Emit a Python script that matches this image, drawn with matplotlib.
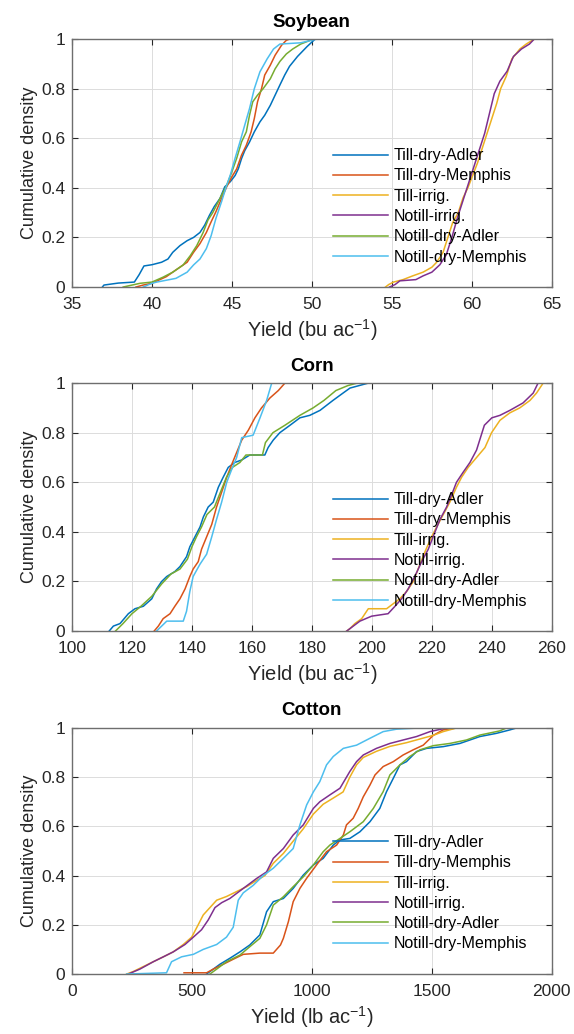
import matplotlib
matplotlib.use("Agg")
import matplotlib.pyplot as plt

plt.rcParams['font.family'] = ['Liberation Sans', 'DejaVu Sans']
plt.rcParams['mathtext.default'] = 'regular'

labels = ['Till-dry-Adler', 'Till-dry-Memphis', 'Till-irrig.', 'Notill-irrig.',
          'Notill-dry-Adler', 'Notill-dry-Memphis']
colors = ['#0072BD', '#D95319', '#EDB120', '#7E2F8E', '#77AC30', '#4DBEEE']

# ---- Soybean (bu/ac) : yield values and cumulative density
soy_till_adler_x = [36.9, 37.0, 37.9, 38.9, 39.2, 39.5, 40.0, 40.6, 41.0, 41.3, 41.75, 42.2, 42.6, 43.0,
                    43.3, 43.6, 43.9, 44.25, 44.55, 44.9, 45.2, 45.4, 45.6, 45.8, 46.1, 46.4, 46.75,
                    47.05, 47.4, 47.7, 48.0, 48.3, 48.6, 49.1, 49.7, 50.2]
soy_till_adler_p = [0.0, 0.008, 0.016, 0.02, 0.05, 0.085, 0.09, 0.10, 0.113, 0.14, 0.167, 0.187, 0.20, 0.22,
                    0.25, 0.29, 0.325, 0.357, 0.404, 0.425, 0.45, 0.477, 0.518, 0.55, 0.585, 0.626, 0.666,
                    0.693, 0.733, 0.774, 0.815, 0.855, 0.89, 0.93, 0.97, 1.0]
soy_till_memphis_x = [39.0, 39.45, 40.0, 40.9, 41.5, 42.2, 42.6, 43.0, 43.4, 43.7, 44.0, 44.35, 44.67, 45.0,
                      45.3, 45.6, 45.9, 46.2, 46.4, 46.6, 46.85, 47.05, 47.4, 47.7, 48.1, 48.4, 48.6]
soy_till_memphis_p = [0.0, 0.008, 0.015, 0.042, 0.069, 0.10, 0.14, 0.175, 0.22, 0.263, 0.304, 0.357, 0.404, 0.445,
                      0.477, 0.532, 0.572, 0.626, 0.68, 0.747, 0.80, 0.855, 0.895, 0.935, 0.975, 0.995, 1.0]
soy_till_irrig_x = [54.6, 54.8, 55.1, 55.7, 56.3, 56.95, 57.5, 57.8, 58.2, 58.5, 58.8, 59.15, 59.45, 59.75,
                    60.05, 60.35, 60.65, 60.95, 61.25, 61.55, 61.8, 62.15, 62.5, 63.0, 63.4, 63.9]
soy_till_irrig_p = [0.0, 0.01, 0.02, 0.03, 0.045, 0.06, 0.08, 0.10, 0.14, 0.20, 0.26, 0.30, 0.36, 0.40,
                    0.45, 0.50, 0.56, 0.62, 0.68, 0.74, 0.80, 0.85, 0.92, 0.96, 0.98, 1.0]
soy_notill_irrig_x = [54.85, 55.2, 55.5, 56.5, 56.95, 57.5, 58.0, 58.4, 58.75, 59.1, 59.45, 59.75, 60.1, 60.5,
                      60.8, 61.1, 61.4, 61.75, 62.2, 62.6, 63.1, 63.6, 63.9]
soy_notill_irrig_p = [0.0, 0.01, 0.025, 0.03, 0.045, 0.06, 0.09, 0.13, 0.20, 0.28, 0.35, 0.41, 0.48, 0.56,
                      0.62, 0.70, 0.78, 0.83, 0.87, 0.93, 0.96, 0.98, 1.0]
soy_notill_adler_x = [38.2, 39.25, 40.0, 40.7, 41.3, 41.95, 42.4, 42.8, 43.2, 43.5, 43.8, 44.25, 44.67, 45.0,
                      45.3, 45.6, 45.9, 46.1, 46.3, 46.6, 46.95, 47.4, 47.7, 48.0, 48.4, 48.8, 49.3, 50.1]
soy_notill_adler_p = [0.0, 0.015, 0.02, 0.04, 0.06, 0.089, 0.127, 0.167, 0.22, 0.27, 0.30, 0.357, 0.41, 0.465,
                      0.52, 0.585, 0.626, 0.693, 0.747, 0.774, 0.80, 0.84, 0.88, 0.91, 0.94, 0.96, 0.98, 1.0]
soy_notill_memphis_x = [39.45, 40.0, 40.3, 41.5, 42.2, 42.6, 43.0, 43.4, 43.7, 44.0, 44.35, 44.67, 44.9, 45.2,
                        45.5, 45.8, 46.1, 46.4, 46.75, 47.2, 47.6, 48.0, 49.3, 50.3]
soy_notill_memphis_p = [0.0, 0.015, 0.02, 0.035, 0.06, 0.089, 0.113, 0.155, 0.207, 0.277, 0.344, 0.41, 0.452, 0.52,
                        0.585, 0.653, 0.72, 0.80, 0.868, 0.92, 0.96, 0.98, 0.985, 1.0]

# ---- Corn (bu/ac)
corn_till_adler_x = [112.4, 113.8, 116, 118.8, 121, 123.8, 126.6, 128.2, 129.9, 131.6, 134.3, 136, 138.2, 139.3,
                     141, 142.7, 143.8, 145.4, 147.1, 148.8, 150.4, 152.1, 154.3, 156.6, 159.3, 164.3, 165.4,
                     167.1, 169.3, 172.7, 176, 179.3, 182.7, 187, 190.4, 192.7, 198.8]
corn_till_adler_p = [0.0, 0.02, 0.03, 0.07, 0.09, 0.10, 0.13, 0.17, 0.20, 0.22, 0.24, 0.26, 0.30, 0.34,
                     0.38, 0.42, 0.46, 0.50, 0.52, 0.58, 0.62, 0.66, 0.68, 0.69, 0.71, 0.71, 0.74,
                     0.77, 0.80, 0.83, 0.86, 0.87, 0.89, 0.93, 0.96, 0.98, 1.0]
corn_till_memphis_x = [127.4, 128.8, 130.4, 132.7, 134.3, 136, 137.7, 139.3, 140.4, 142.1, 143.2, 144.9, 146.6,
                       148.2, 149.9, 151.6, 153.2, 154.9, 156.6, 158.8, 161, 163.2, 166, 168.8, 171]
corn_till_memphis_p = [0.0, 0.02, 0.05, 0.07, 0.10, 0.13, 0.17, 0.22, 0.25, 0.28, 0.33, 0.38, 0.43,
                       0.50, 0.56, 0.62, 0.67, 0.72, 0.77, 0.81, 0.86, 0.90, 0.94, 0.97, 1.0]
corn_till_irrig_x = [191.6, 192.7, 194.3, 196.6, 198.8, 201.6, 204.9, 207.1, 209.3, 211.6, 213.8, 215.4, 217.7,
                     219.9, 221.6, 223.8, 226, 228.2, 229.9, 232.1, 234.9, 237.7, 239.9, 242.7, 246, 249.3,
                     252.7, 254.9, 257.1]
corn_till_irrig_p = [0.0, 0.01, 0.03, 0.05, 0.09, 0.09, 0.09, 0.11, 0.13, 0.16, 0.20, 0.25, 0.32,
                     0.38, 0.42, 0.47, 0.52, 0.58, 0.62, 0.66, 0.70, 0.74, 0.80, 0.85, 0.88, 0.90,
                     0.93, 0.96, 1.0]
corn_notill_irrig_x = [191.6, 193.8, 196, 199.9, 205.4, 207.7, 209.9, 212.1, 214.3, 216.6, 218.8, 220.4, 222.7,
                       224.9, 226.6, 228.2, 230.4, 232.7, 234.9, 237.5, 240, 242.7, 246, 250.4, 253.8, 255.4]
corn_notill_irrig_p = [0.0, 0.02, 0.04, 0.06, 0.07, 0.10, 0.13, 0.17, 0.22, 0.28, 0.33, 0.38, 0.45,
                       0.50, 0.55, 0.60, 0.64, 0.68, 0.73, 0.83, 0.86, 0.87, 0.89, 0.92, 0.96, 1.0]
corn_notill_adler_x = [114.5, 117, 120, 123, 126.6, 129.9, 133, 136, 138.5, 140, 141.5, 143.2, 145, 147.5,
                       149.5, 151.5, 153.5, 156, 158, 163.5, 164.5, 167, 171, 176, 180.4, 184, 188, 192, 195]
corn_notill_adler_p = [0.0, 0.03, 0.07, 0.10, 0.14, 0.19, 0.23, 0.25, 0.29, 0.34, 0.38, 0.42, 0.47, 0.50,
                       0.56, 0.62, 0.66, 0.68, 0.71, 0.71, 0.76, 0.80, 0.83, 0.87, 0.90, 0.93, 0.97, 0.99, 1.0]
corn_notill_memphis_x = [128.2, 129.9, 131.6, 137.1, 138.2, 139.3, 140.4, 142.7, 144.9, 146.6, 148.2, 149.9,
                         151.6, 153.2, 154.9, 156.6, 160.4, 162.7, 164.9, 166.6]
corn_notill_memphis_p = [0.0, 0.02, 0.04, 0.04, 0.08, 0.16, 0.22, 0.27, 0.31, 0.38, 0.45, 0.52,
                         0.60, 0.65, 0.70, 0.78, 0.79, 0.86, 0.93, 1.0]

# ---- Cotton (lb/ac)
cot_till_adler_x = [561, 589, 617, 658, 700, 741, 783, 811, 839, 881, 922, 964, 1006, 1047, 1089, 1117, 1158,
                    1200, 1242, 1283, 1311, 1339, 1367, 1394, 1436, 1478, 1547, 1617, 1700, 1769, 1825, 1853]
cot_till_adler_p = [0.0, 0.02, 0.04, 0.064, 0.09, 0.118, 0.159, 0.253, 0.294, 0.307, 0.348, 0.402, 0.443, 0.47,
                    0.524, 0.545, 0.551, 0.578, 0.619, 0.673, 0.741, 0.795, 0.85, 0.863, 0.904, 0.917, 0.924,
                    0.937, 0.965, 0.978, 0.992, 1.0]
cot_till_memphis_x = [467, 561, 589, 631, 672, 714, 783, 839, 869, 881, 902, 922, 950, 978, 1019, 1061, 1103,
                      1131, 1144, 1172, 1193, 1214, 1242, 1263, 1297, 1339, 1380, 1422, 1464, 1506, 1547, 1603]
cot_till_memphis_p = [0.005, 0.005, 0.02, 0.04, 0.06, 0.08, 0.085, 0.085, 0.118, 0.145, 0.213, 0.294, 0.348,
                      0.389, 0.443, 0.497, 0.524, 0.565, 0.606, 0.633, 0.673, 0.72, 0.768, 0.809, 0.843, 0.863,
                      0.89, 0.911, 0.93, 0.97, 0.992, 1.0]
cot_till_irrig_x = [228, 255, 297, 339, 381, 422, 464, 499, 526, 547, 575, 603, 644, 686, 728, 769, 804, 839,
                    881, 922, 964, 1006, 1047, 1089, 1130, 1158, 1186, 1214, 1269, 1325, 1394, 1450, 1506,
                    1547, 1603]
cot_till_irrig_p = [0.0, 0.01, 0.03, 0.05, 0.07, 0.09, 0.12, 0.15, 0.20, 0.24, 0.27, 0.30, 0.315, 0.335, 0.355,
                    0.38, 0.40, 0.45, 0.49, 0.54, 0.59, 0.65, 0.69, 0.715, 0.74, 0.80, 0.85, 0.88, 0.905,
                    0.925, 0.94, 0.955, 0.97, 0.985, 1.0]
cot_notill_irrig_x = [235, 283, 339, 381, 422, 471, 506, 540, 568, 596, 624, 658, 714, 769, 811, 839, 881, 922,
                      964, 1006, 1033, 1075, 1117, 1158, 1186, 1214, 1269, 1325, 1380, 1436, 1492, 1561]
cot_notill_irrig_p = [0.0, 0.02, 0.05, 0.07, 0.09, 0.12, 0.15, 0.18, 0.22, 0.27, 0.29, 0.307, 0.348, 0.388,
                      0.415, 0.47, 0.51, 0.565, 0.606, 0.673, 0.70, 0.728, 0.755, 0.823, 0.863, 0.89, 0.917,
                      0.937, 0.951, 0.965, 0.985, 1.0]
cot_notill_adler_x = [575, 603, 644, 700, 741, 783, 811, 839, 881, 922, 964, 1006, 1047, 1075, 1117, 1158, 1214,
                      1256, 1297, 1325, 1367, 1408, 1450, 1506, 1575, 1644, 1700, 1783, 1811]
cot_notill_adler_p = [0.0, 0.02, 0.05, 0.077, 0.111, 0.145, 0.20, 0.28, 0.314, 0.355, 0.395, 0.443, 0.497,
                      0.524, 0.551, 0.578, 0.619, 0.673, 0.741, 0.809, 0.85, 0.884, 0.911, 0.928, 0.937,
                      0.951, 0.971, 0.988, 1.0]
cot_notill_memphis_x = [228, 394, 415, 457, 506, 547, 603, 644, 672, 693, 714, 755, 797, 839, 881, 922, 950,
                        978, 1006, 1033, 1061, 1089, 1131, 1186, 1242, 1297, 1353, 1450]
cot_notill_memphis_p = [0.0, 0.005, 0.05, 0.07, 0.08, 0.10, 0.12, 0.15, 0.19, 0.30, 0.33, 0.36, 0.40, 0.43,
                        0.47, 0.51, 0.606, 0.687, 0.74, 0.782, 0.85, 0.884, 0.917, 0.93, 0.958, 0.985,
                        0.995, 1.0]

soy = [(soy_till_adler_x, soy_till_adler_p), (soy_till_memphis_x, soy_till_memphis_p),
       (soy_till_irrig_x, soy_till_irrig_p), (soy_notill_irrig_x, soy_notill_irrig_p),
       (soy_notill_adler_x, soy_notill_adler_p), (soy_notill_memphis_x, soy_notill_memphis_p)]
corn = [(corn_till_adler_x, corn_till_adler_p), (corn_till_memphis_x, corn_till_memphis_p),
        (corn_till_irrig_x, corn_till_irrig_p), (corn_notill_irrig_x, corn_notill_irrig_p),
        (corn_notill_adler_x, corn_notill_adler_p), (corn_notill_memphis_x, corn_notill_memphis_p)]
cotton = [(cot_till_adler_x, cot_till_adler_p), (cot_till_memphis_x, cot_till_memphis_p),
          (cot_till_irrig_x, cot_till_irrig_p), (cot_notill_irrig_x, cot_notill_irrig_p),
          (cot_notill_adler_x, cot_notill_adler_p), (cot_notill_memphis_x, cot_notill_memphis_p)]

fig = plt.figure(figsize=(5.74, 10.34), dpi=100)

panels = [
    ('Soybean', soy, (35, 65), range(35, 66, 5), 'Yield (bu ac$^{-1}$)', 0.7224, 0.2398, 0.56),
    ('Corn', corn, (100, 260), range(100, 261, 20), 'Yield (bu ac$^{-1}$)', 0.3897, 0.2398, 0.56),
    ('Cotton', cotton, (0, 2000), range(0, 2001, 500), 'Yield (lb ac$^{-1}$)', 0.0580, 0.2380, 0.565),
]

for title, series, xlim, xticks, xlabel, bottom, height, leg_top in panels:
    ax = fig.add_axes([0.1254, bottom, 0.836, height])
    for (x, p), lab, c in zip(series, labels, colors):
        ax.plot(x, p, color=c, lw=1.1, label=lab)
    ax.set_xlim(*xlim)
    ax.set_ylim(0, 1)
    ax.set_xticks(list(xticks))
    ax.set_yticks([0, 0.2, 0.4, 0.6, 0.8, 1])
    ax.set_yticklabels(['0', '0.2', '0.4', '0.6', '0.8', '1'])
    ax.grid(True, color='#dcdcdc', lw=0.7)
    ax.set_axisbelow(True)
    ax.tick_params(direction='in', length=4, width=0.8, top=True, right=True,
                   labelsize=12.5, colors='#262626')
    ax.tick_params(axis='x', pad=7)
    ax.tick_params(axis='y', pad=5)
    for s in ax.spines.values():
        s.set_color('#6e6e6e')
        s.set_linewidth(1.0)
    ax.set_title(title, fontsize=13.5, fontweight='bold', pad=9)
    ax.set_xlabel(xlabel, fontsize=14.5, color='#262626', labelpad=4)
    ax.set_ylabel('Cumulative density', fontsize=13, color='#262626', labelpad=2)
    ax.legend(loc='upper left', bbox_to_anchor=(0.544, leg_top), frameon=False, fontsize=11.5,
              handlelength=3.45, handletextpad=0.37, labelspacing=0.33, borderpad=0,
              borderaxespad=0)

fig.savefig('out.png', dpi=100)
